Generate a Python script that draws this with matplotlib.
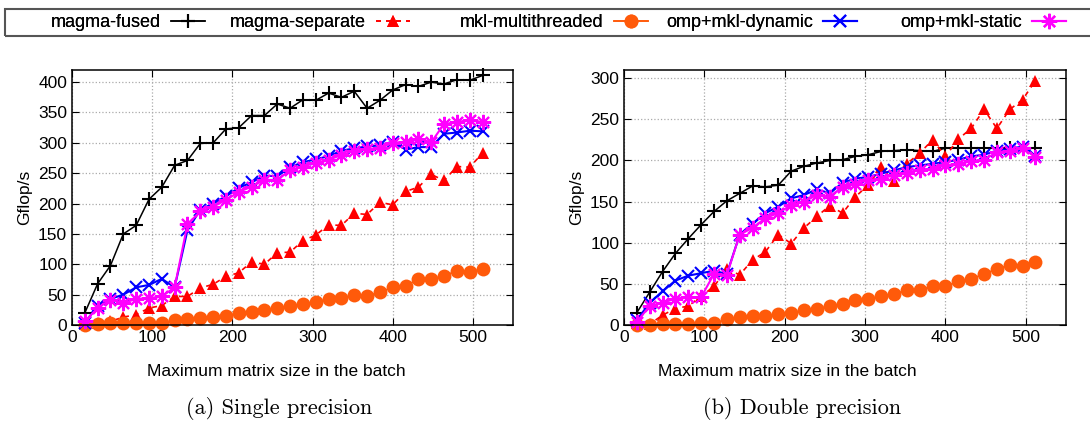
# Batched GEMM performance: single vs double precision
import matplotlib
matplotlib.use('Agg')
import matplotlib.pyplot as plt
from matplotlib.patches import Rectangle

plt.rcParams['font.family'] = ['Liberation Sans', 'DejaVu Sans']

# Data
sizes = [16, 32, 48, 64, 80, 96, 112, 128, 144, 160, 176, 192, 208, 224, 240, 256,
         272, 288, 304, 320, 336, 352, 368, 384, 400, 416, 432, 448, 464, 480, 496, 512]

series_names = ['magma-fused', 'magma-separate', 'mkl-multithreaded',
                'omp+mkl-dynamic', 'omp+mkl-static']

# single precision (Gflop/s)
sp_fused = [20, 68, 98, 150, 164, 207, 227, 263, 271, 299, 300, 323, 325, 345, 345, 364,
            357, 371, 370, 382, 375, 385, 357, 370, 387, 396, 393, 400, 397, 404, 403, 411]
sp_separate = [2, 3, 6, 13, 17, 28, 32, 47, 47, 61, 67, 80, 86, 104, 100, 119,
               120, 139, 148, 165, 164, 184, 182, 202, 198, 220, 227, 248, 238, 261, 260, 283]
sp_mkl = [0.5, 2, 3, 3, 3, 3, 3, 8, 10, 12, 13, 15, 20, 21, 25, 28,
          31, 35, 38, 43, 44, 49, 48, 54, 62, 65, 75, 76, 81, 89, 87, 93]
sp_dynamic = [4, 31, 43, 50, 62, 66, 76, 62, 156, 190, 200, 212, 226, 235, 246, 245,
              260, 268, 273, 278, 287, 291, 294, 296, 302, 289, 293, 293, 315, 317, 320, 319]
sp_static = [6, 28, 42, 36, 43, 44, 47, 62, 166, 187, 195, 206, 219, 228, 239, 239,
             255, 261, 267, 272, 280, 287, 290, 291, 300, 302, 307, 301, 331, 334, 338, 334]

# double precision (Gflop/s)
dp_fused = [15, 40, 65, 87, 105, 122, 138, 151, 160, 169, 168, 170, 187, 193, 197, 200,
            201, 205, 207, 211, 212, 213, 212, 211, 215, 215, 215, 215, 215, 215, 215, 215]
dp_separate = [2, 1, 12, 20, 23, 35, 47, 68, 61, 79, 89, 110, 99, 118, 132, 145,
               136, 156, 170, 192, 175, 196, 209, 225, 205, 226, 239, 262, 239, 262, 274, 297]
dp_mkl = [0.5, 0.5, 1, 1, 1, 2, 2, 7, 10, 11, 11, 13, 15, 18, 20, 23,
          26, 30, 32, 35, 38, 42, 43, 47, 47, 53, 56, 62, 68, 73, 72, 76]
dp_dynamic = [6, 27, 41, 54, 60, 63, 66, 62, 110, 123, 136, 144, 154, 158, 165, 160,
              173, 178, 180, 184, 188, 192, 194, 196, 198, 201, 205, 207, 212, 214, 217, 205]
dp_static = [4, 23, 27, 32, 34, 34, 62, 61, 110, 118, 130, 136, 146, 150, 158, 156,
             168, 172, 176, 178, 182, 185, 189, 190, 194, 196, 199, 201, 210, 212, 215, 204]

styles = [
    dict(color='black', marker='+', linestyle='-', markersize=10, mew=1.5, lw=1.1),
    dict(color='#ff0000', marker='^', linestyle=(0, (3, 3)), markersize=9, mew=0, lw=1.2),
    dict(color='#ff5a0a', marker='o', linestyle='-', markersize=10, mew=0, lw=1.2),
    dict(color='#0000ff', marker='x', linestyle='-', markersize=9, mew=1.5, lw=1.5),
    dict(color='#ff00ff', marker=(8, 2, 0), linestyle='-', markersize=11, mew=1.5, lw=1.5),
]

fig = plt.figure(figsize=(10.9, 4.22), dpi=100)
ax1 = fig.add_axes([72 / 1090, 1 - 325 / 422, 441 / 1090, 255 / 422])
ax2 = fig.add_axes([624 / 1090, 1 - 325 / 422, 442 / 1090, 255 / 422])

panels = [
    (ax1, [sp_fused, sp_separate, sp_mkl, sp_dynamic, sp_static], 420, range(0, 401, 50)),
    (ax2, [dp_fused, dp_separate, dp_mkl, dp_dynamic, dp_static], 310, range(0, 301, 50)),
]

for ax, data, ytop, yticks in panels:
    for name, vals, st in zip(series_names, data, styles):
        ax.plot(sizes, vals, label=name, clip_on=False, **st)
    ax.set_xlim(0, 550)
    ax.set_ylim(0, ytop)
    ax.set_xticks(range(0, 501, 100))
    ax.set_yticks(list(yticks))
    ax.grid(True, color='#aaaaaa', linestyle=':', linewidth=0.9)
    ax.tick_params(direction='in', top=True, right=True, labelsize=12.5, length=5)
    ax.set_ylabel('Gflop/s', fontsize=12.5)
    for sp in ax.spines.values():
        sp.set_linewidth(1.1)

# x labels and captions
fig.text(276 / 1090, 1 - 372 / 422, 'Maximum matrix size in the batch',
         ha='center', va='center', fontsize=12.5)
fig.text(787 / 1090, 1 - 372 / 422, 'Maximum matrix size in the batch',
         ha='center', va='center', fontsize=12.5)
fig.text(279 / 1090, 1 - 408 / 422, '(a) Single precision',
         ha='center', va='center', fontsize=16, family='cmr10')
fig.text(802 / 1090, 1 - 408 / 422, '(b) Double precision',
         ha='center', va='center', fontsize=16, family='cmr10')

# legend: frame box plus one right-aligned entry per column (gnuplot style)
fig.add_artist(Rectangle((5 / 1090, 1 - 36 / 422), 1.0, 27 / 422,
                         transform=fig.transFigure, fill=False,
                         edgecolor='#555555', linewidth=1.5))
handles, labels = ax1.get_legend_handles_labels()
sample_ends = [205, 410, 648, 857, 1066]
for h, lab, xe in zip(handles, labels, sample_ends):
    leg = fig.legend([h], [lab], loc='center right',
                     bbox_to_anchor=(xe / 1090, 1 - 22.5 / 422),
                     borderaxespad=0, borderpad=0, markerfirst=False,
                     fontsize=13, handlelength=1.9, handletextpad=0.55,
                     frameon=False)
    fig.add_artist(leg)

plt.savefig('out.png', dpi=100)
print("saved out.png")
